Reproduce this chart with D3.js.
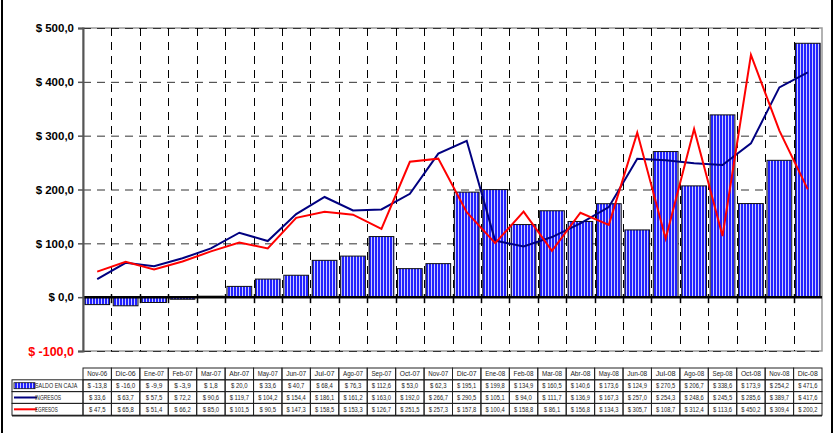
<!DOCTYPE html>
<html>
<head>
<meta charset="utf-8">
<script src="https://cdn.jsdelivr.net/npm/d3@7"></script>
<style>
  body { margin: 0; background: #fff; }
  svg { display: block; font-family: Arial, "Liberation Sans", sans-serif; }
</style>
</head>
<body>
<div id="chart"></div>
<script>
// monthly data
var months = ["Nov-06", "Dic-06", "Ene-07", "Feb-07", "Mar-07", "Abr-07", "May-07", "Jun-07", "Jul-07", "Ago-07",
  "Sep-07", "Oct-07", "Nov-07", "Dic-07", "Ene-08", "Feb-08", "Mar-08", "Abr-08", "May-08", "Jun-08",
  "Jul-08", "Ago-08", "Sep-08", "Oct-08", "Nov-08", "Dic-08"];
var saldo = [-13.8, -16.0, -9.9, -3.9, 1.8, 20.0, 33.6, 40.7, 68.4, 76.3, 112.6, 53.0, 62.3, 195.1, 199.8, 134.9,
  160.5, 140.6, 173.6, 124.9, 270.5, 206.7, 338.6, 173.9, 254.2, 471.6];
var ingresos = [33.6, 63.7, 57.5, 72.2, 90.6, 119.7, 104.2, 154.4, 186.1, 161.2, 163.0, 192.0, 266.7, 290.5, 105.1,
  94.0, 111.7, 136.9, 167.3, 257.0, 254.3, 248.6, 245.5, 285.6, 389.7, 417.6];
var egresos = [47.5, 65.8, 51.4, 66.2, 85.0, 101.5, 90.5, 147.3, 158.5, 153.3, 126.7, 251.5, 257.3, 157.8, 100.4,
  158.8, 86.1, 156.8, 134.3, 305.7, 108.7, 312.4, 113.6, 450.2, 309.4, 200.2];
var yTicks = [-100, 0, 100, 200, 300, 400, 500];
var seriesNames = ["SALDO EN CAJA", "INGRESOS", "EGRESOS"];

function fmt(v) {
  return "$ " + v.toFixed(1).replace(".", ",");
}

function main() {
  var W = 835, H = 433;
  var left = 83, right = 822, top = 28, bottom = 351;

  var svg = d3.select("#chart").append("svg")
    .attr("width", W).attr("height", H);

  // striped pattern for the bars
  var defs = svg.append("defs");
  var pat = defs.append("pattern")
    .attr("id", "stripes")
    .attr("patternUnits", "userSpaceOnUse")
    .attr("width", 3).attr("height", 10);
  pat.append("rect").attr("width", 3).attr("height", 10).attr("fill", "#2222ff");
  pat.append("rect").attr("x", 2).attr("width", 1).attr("height", 10).attr("fill", "#ccccff");

  // outer frame (left and right only)
  svg.append("line").attr("x1", 2).attr("x2", 2).attr("y1", 0).attr("y2", H)
    .attr("stroke", "#000").attr("stroke-width", 2);
  svg.append("line").attr("x1", 832).attr("x2", 832).attr("y1", 0).attr("y2", H)
    .attr("stroke", "#000").attr("stroke-width", 2);

  var x = d3.scaleBand().domain(months).range([left, right]).paddingInner(0.13).paddingOuter(0.065);
  var xb = d3.scaleBand().domain(months).range([left, right]);
  var y = d3.scaleLinear().domain([-100, 500]).range([bottom, top]);

  var g = svg.append("g");

  // plot area border
  g.append("rect")
    .attr("x", left).attr("y", top)
    .attr("width", right - left).attr("height", bottom - top)
    .attr("fill", "none").attr("stroke", "#999").attr("stroke-width", 1.5);

  // horizontal dashed gridlines
  g.selectAll(".hgrid")
    .data(yTicks.filter(function (d) { return d !== 0; }))
    .enter().append("line")
    .attr("x1", left).attr("x2", right)
    .attr("y1", function (d) { return y(d) + 0.5; })
    .attr("y2", function (d) { return y(d) + 0.5; })
    .attr("stroke", "#333").attr("stroke-dasharray", "8,6");

  // vertical dashed gridlines between months
  g.selectAll(".vgrid")
    .data(months.slice(1))
    .enter().append("line")
    .attr("x1", function (d) { return Math.round(xb(d)) + 0.5; })
    .attr("x2", function (d) { return Math.round(xb(d)) + 0.5; })
    .attr("y1", top).attr("y2", bottom)
    .attr("stroke", "#000").attr("stroke-dasharray", "8,6");

  // bars
  g.selectAll(".bar")
    .data(saldo)
    .enter().append("rect")
    .attr("x", function (d, i) { return x(months[i]); })
    .attr("width", x.bandwidth())
    .attr("y", function (d) { return y(Math.max(0, d)); })
    .attr("height", function (d) { return Math.abs(y(d) - y(0)); })
    .attr("fill", "url(#stripes)")
    .attr("stroke", "#111").attr("stroke-width", 1);

  // zero axis with tick marks
  g.append("line")
    .attr("x1", left).attr("x2", right)
    .attr("y1", y(0)).attr("y2", y(0))
    .attr("stroke", "#000").attr("stroke-width", 2.5);
  g.selectAll(".xtick")
    .data(months.slice(1))
    .enter().append("line")
    .attr("x1", function (d) { return Math.round(xb(d)) + 0.5; })
    .attr("x2", function (d) { return Math.round(xb(d)) + 0.5; })
    .attr("y1", y(0) - 3).attr("y2", y(0) + 6)
    .attr("stroke", "#000").attr("stroke-width", 1.5);

  // y axis
  var yAxis = d3.axisLeft(y).tickValues(yTicks).tickSize(5).tickPadding(4)
    .tickFormat(function (d) { return fmt(d); });
  var ya = svg.append("g").attr("transform", "translate(" + left + ",0)").call(yAxis);
  ya.select(".domain").attr("stroke", "#555").attr("stroke-width", 2);
  ya.selectAll(".tick line").attr("stroke", "#555").attr("stroke-width", 1.5);
  ya.selectAll("text")
    .attr("font-size", "11.5px").attr("font-weight", "bold")
    .attr("font-family", "Arial, 'Liberation Sans', sans-serif")
    .attr("fill", function (d) { return d < 0 ? "#ff0000" : "#000"; });
  ya.selectAll("text").filter(function (d) { return d < 0; }).attr("font-size", "12.5px");

  // lines
  var line = d3.line()
    .x(function (d, i) { return xb(months[i]) + xb.bandwidth() / 2; })
    .y(function (d) { return y(d); });
  g.append("path").datum(ingresos).attr("d", line)
    .attr("fill", "none").attr("stroke", "#000080").attr("stroke-width", 2);
  g.append("path").datum(egresos).attr("d", line)
    .attr("fill", "none").attr("stroke", "#ff0000").attr("stroke-width", 2);

  // data table
  var tTop = 368, rowH = 11.8, labLeft = 12;
  var rows = [saldo, ingresos, egresos];
  var t = svg.append("g").attr("font-size", "6.5px").attr("fill", "#222");

  // header cells
  t.selectAll(".hcell")
    .data(months)
    .enter().append("rect")
    .attr("x", function (d) { return xb(d); })
    .attr("y", tTop).attr("width", xb.bandwidth()).attr("height", rowH)
    .attr("fill", "none").attr("stroke", "#222").attr("stroke-width", 1);
  t.selectAll(".htext")
    .data(months)
    .enter().append("text")
    .attr("x", function (d) { return xb(d) + xb.bandwidth() / 2; })
    .attr("y", tTop + rowH / 2 + 2.3)
    .attr("text-anchor", "middle")
    .attr("textLength", 20).attr("lengthAdjust", "spacingAndGlyphs")
    .text(function (d) { return d; });

  rows.forEach(function (vals, r) {
    var ry = tTop + rowH * (r + 1);
    t.append("rect")
      .attr("x", labLeft).attr("y", ry).attr("width", left - labLeft).attr("height", rowH)
      .attr("fill", "none").attr("stroke", "#222").attr("stroke-width", 1);
    t.selectAll(".c" + r)
      .data(vals)
      .enter().append("rect")
      .attr("x", function (d, i) { return xb(months[i]); })
      .attr("y", ry).attr("width", xb.bandwidth()).attr("height", rowH)
      .attr("fill", "none").attr("stroke", "#222").attr("stroke-width", 1);
    t.selectAll(".v" + r)
      .data(vals)
      .enter().append("text")
      .attr("x", function (d, i) { return xb(months[i]) + xb.bandwidth() / 2; })
      .attr("y", ry + rowH / 2 + 2.3)
      .attr("text-anchor", "middle")
      .attr("textLength", function (d) { return fmt(d).length * 2.75; })
      .attr("lengthAdjust", "spacingAndGlyphs")
      .text(function (d) { return fmt(d); });

    // legend key
    var cy = ry + rowH / 2;
    if (r === 0) {
      t.append("rect").attr("x", 14).attr("y", cy - 3).attr("width", 21).attr("height", 6)
        .attr("fill", "url(#stripes)").attr("stroke", "#111").attr("stroke-width", 0.8);
    } else {
      t.append("line").attr("x1", 14).attr("x2", 37).attr("y1", cy).attr("y2", cy)
        .attr("stroke", r === 1 ? "#000080" : "#ff0000").attr("stroke-width", 2);
    }
    t.append("text")
      .attr("x", 35).attr("y", cy + 2.5)
      .attr("textLength", seriesNames[r].length * 3.25).attr("lengthAdjust", "spacingAndGlyphs")
      .text(seriesNames[r]);
  });

  // heavier bottom edge of the table
  t.append("line")
    .attr("x1", labLeft).attr("x2", right)
    .attr("y1", tTop + rowH * 4 + 0.5).attr("y2", tTop + rowH * 4 + 0.5)
    .attr("stroke", "#222").attr("stroke-width", 1.5);
}

window.addEventListener("load", main);
</script>
</body>
</html>
